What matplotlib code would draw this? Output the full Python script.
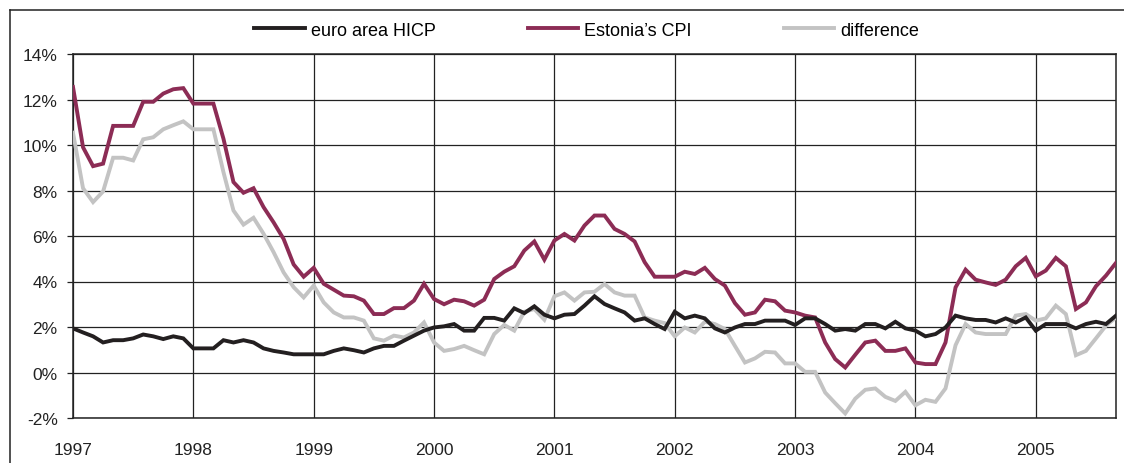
import matplotlib
matplotlib.use("Agg")
import matplotlib.pyplot as plt
from matplotlib.lines import Line2D

plt.rcParams['font.family'] = ['Liberation Sans', 'DejaVu Sans']

years = ['1997', '1998', '1999', '2000', '2001', '2002', '2003', '2004', '2005']

euro_hicp = [
    1.94, 1.76, 1.59, 1.32, 1.42, 1.42, 1.50, 1.67, 1.59, 1.47, 1.59, 1.50,
    1.06, 1.06, 1.06, 1.42, 1.32, 1.42, 1.32, 1.06, 0.95, 0.88, 0.80, 0.80,
    0.80, 0.80, 0.95, 1.06, 0.98, 0.88, 1.06, 1.17, 1.17, 1.40, 1.62, 1.84,
    1.98, 2.03, 2.13, 1.84, 1.84, 2.40, 2.40, 2.28, 2.82, 2.61, 2.91, 2.54,
    2.38, 2.54, 2.57, 2.94, 3.35, 3.01, 2.82, 2.64, 2.28, 2.38, 2.13, 1.91,
    2.67, 2.38, 2.50, 2.38, 1.94, 1.76, 1.98, 2.13, 2.13, 2.28, 2.28, 2.28,
    2.09, 2.38, 2.38, 2.13, 1.84, 1.91, 1.84, 2.13, 2.13, 1.94, 2.23, 1.94,
    1.84, 1.59, 1.69, 1.98, 2.50, 2.38, 2.31, 2.31, 2.20, 2.38, 2.20, 2.42,
    1.84, 2.13, 2.13, 2.13, 1.94, 2.13, 2.23, 2.13, 2.50,
]

estonia_cpi = [
    12.55, 9.90, 9.07, 9.18, 10.84, 10.84, 10.84, 11.90, 11.90, 12.26, 12.45, 12.50,
    11.82, 11.82, 11.82, 10.28, 8.37, 7.90, 8.10, 7.27, 6.60, 5.87, 4.75, 4.21,
    4.60, 3.90, 3.64, 3.38, 3.35, 3.16, 2.57, 2.57, 2.83, 2.83, 3.16, 3.90,
    3.23, 3.00, 3.20, 3.13, 2.94, 3.20, 4.11, 4.43, 4.67, 5.36, 5.76, 4.96,
    5.80, 6.09, 5.80, 6.46, 6.90, 6.90, 6.31, 6.09, 5.76, 4.85, 4.21, 4.21,
    4.21, 4.43, 4.33, 4.60, 4.11, 3.82, 3.05, 2.54, 2.64, 3.20, 3.13, 2.72,
    2.64, 2.50, 2.42, 1.32, 0.59, 0.22, 0.78, 1.32, 1.40, 0.95, 0.95, 1.06,
    0.44, 0.37, 0.37, 1.32, 3.74, 4.52, 4.08, 3.96, 3.85, 4.08, 4.67, 5.04,
    4.23, 4.48, 5.04, 4.67, 2.79, 3.08, 3.79, 4.26, 4.82,
]

difference = [
    10.54, 8.10, 7.49, 7.96, 9.44, 9.44, 9.32, 10.25, 10.34, 10.69, 10.87, 11.04,
    10.69, 10.69, 10.69, 8.81, 7.12, 6.50, 6.80, 6.10, 5.29, 4.40, 3.75, 3.30,
    3.82, 3.08, 2.64, 2.42, 2.42, 2.28, 1.50, 1.40, 1.62, 1.54, 1.76, 2.20,
    1.32, 0.95, 1.03, 1.17, 0.98, 0.80, 1.69, 2.09, 1.84, 2.67, 2.79, 2.32,
    3.35, 3.52, 3.16, 3.52, 3.55, 3.89, 3.52, 3.38, 3.38, 2.42, 2.28, 2.17,
    1.59, 1.98, 1.76, 2.23, 2.13, 1.91, 1.17, 0.44, 0.62, 0.91, 0.88, 0.40,
    0.40, 0.03, 0.03, -0.88, -1.35, -1.80, -1.15, -0.76, -0.70, -1.07, -1.25, -0.85,
    -1.44, -1.20, -1.29, -0.70, 1.20, 2.13, 1.76, 1.69, 1.69, 1.69, 2.50, 2.57,
    2.28, 2.38, 2.94, 2.57, 0.76, 0.95, 1.50, 2.06, 2.42,
]

y_ticks = [-2, 0, 2, 4, 6, 8, 10, 12, 14]

RED = '#8C2C55'
GREY = '#C3C3C3'
BLACK = '#231F20'

fig = plt.figure(figsize=(11.24, 4.64), dpi=100)
ax = fig.add_axes([73 / 1124, 1 - 419 / 464, (1116 - 73) / 1124, (419 - 55) / 464])

months = list(range(len(euro_hicp)))
ax.plot(months, difference, color=GREY, lw=2.8, solid_joinstyle='miter', label='difference', zorder=3)
ax.plot(months, estonia_cpi, color=RED, lw=2.8, solid_joinstyle='miter', label="Estonia\u2019s CPI", zorder=4)
ax.plot(months, euro_hicp, color=BLACK, lw=2.8, solid_joinstyle='miter', label='euro area HICP', zorder=5)

ax.set_xlim(0, len(euro_hicp) - 1)
ax.set_ylim(-2, 14)
ax.set_xticks([12 * k for k in range(len(years))])
ax.set_xticklabels(years)
ax.set_yticks(y_ticks)
ax.set_yticklabels([f'{v}%' for v in y_ticks])

ax.grid(True, color='#222222', lw=0.9, zorder=1)
ax.set_axisbelow(True)
for s in ax.spines.values():
    s.set_color('#222222')
    s.set_linewidth(1.1)

ax.tick_params(axis='x', length=0, pad=17, labelsize=12.5, colors='#222222')
ax.tick_params(axis='y', length=4, width=0.9, pad=7, labelsize=12.5, colors='#222222')

handles, labels = ax.get_legend_handles_labels()
order = [2, 1, 0]
fig.legend([handles[i] for i in order], [labels[i] for i in order],
           loc='center', bbox_to_anchor=(0.522, 0.933), ncol=3, frameon=False,
           fontsize=13, handlelength=2.8, handletextpad=0.33, columnspacing=5.1)

# outer frame (left and top edges visible)
fig.add_artist(Line2D([10 / 1124, 10 / 1124], [0, 1 - 11 / 464], transform=fig.transFigure,
                      color='#222222', lw=1.1))
fig.add_artist(Line2D([10 / 1124, 1], [1 - 11 / 464, 1 - 11 / 464], transform=fig.transFigure,
                      color='#222222', lw=1.1))

fig.savefig('out.png', dpi=100)
